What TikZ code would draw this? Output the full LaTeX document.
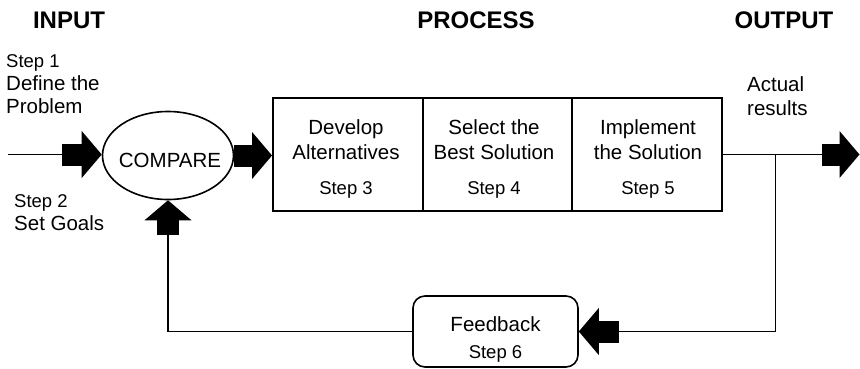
\documentclass[tikz,border=0pt]{standalone}
\usepackage{fontspec}
\setmainfont{Liberation Sans}
\usetikzlibrary{shapes.geometric,arrows.meta,calc}
\newcommand\bodysize{\fontsize{20.5}{23}\selectfont}
\newcommand\cellsize{\fontsize{20.5}{24.5}\selectfont}
\newcommand\stepsize{\fontsize{18.5}{23}\selectfont}
\newcommand\headsize{\fontsize{24}{28}\selectfont\bfseries}

\begin{document}
\begin{tikzpicture}[x=1pt,y=-1pt,
  txt/.style={inner sep=0pt, font=\bodysize},
  head/.style={inner sep=0pt, font=\headsize},
  cell/.style={draw, line width=1.8pt, minimum width=149.7pt, minimum height=113pt, inner sep=0pt},
  celltxt/.style={inner sep=0pt, align=center, font=\cellsize},
  flow/.style={line width=1.5pt},
  fat/.style={line width=22pt, -{Triangle[length=20pt,width=47pt,line width=0pt]}},
]
\useasboundingbox (0,0) rectangle (860,368);

% column headings
\node[head] (hin)  at (69,20.5)  {INPUT};
\node[head] (hpr)  at (476,20.5) {PROCESS};
\node[head] (hout) at (784,20.5) {OUTPUT};

% input texts
\node[txt, anchor=west, align=left] (in1) at (6,84) {{\stepsize Step 1}\\Define the\\Problem};
\node[txt, anchor=west, align=left] (in2) at (14,213) {{\stepsize Step 2}\\Set Goals};

% comparison
\node[ellipse, draw, line width=1.6pt, minimum width=131pt, minimum height=88pt,
      inner sep=0pt] (cmp) at (168,155.5) {};
\node[txt] (cmpt) at (170,160) {COMPARE};

% process steps
\node[cell] (c3) at (347.8,154.5) {};
\node[cell] (c4) at (497.5,154.5) {};
\node[cell] (c5) at (647.2,154.5) {};
\node[celltxt] (t3) at (346,159) {Develop\\Alternatives\\[11pt]{\stepsize Step 3}};
\node[celltxt] (t4) at (494,159) {Select the\\Best Solution\\[11pt]{\stepsize Step 4}};
\node[celltxt] (t5) at (648,159) {Implement\\the Solution\\[11pt]{\stepsize Step 5}};

% output text
\node[txt, anchor=west, align=left, font=\cellsize] (act) at (747,96) {Actual\\results};

% feedback
\node[draw, rounded corners=12pt, line width=1.6pt, minimum width=165pt, minimum height=71pt,
      inner sep=0pt] (fb) at (495.5,331.5) {};
\node[txt, align=center] (fbt) at (495.5,339.5) {Feedback\\[4pt]{\stepsize Step 6}};

% connector points
\coordinate (inL) at (8,154.5);
\coordinate (inA) at (62,154.5);
\coordinate (outA) at (822,154.5);
\coordinate (outT) at (859.5,154.5);
\coordinate (br) at (775.5,154.5);
\coordinate (fbA) at (619,331.5);
\coordinate (upA) at (168,235);

% connectors
\draw[flow] (inL) -- (inA);
\draw[fat] (inA) -- (inA -| cmp.west);
\draw[fat] (cmp.east) -- (cmp.east -| c3.west);
\draw[flow] (c5.east) -- (outA);
\draw[fat] (outA) -- (outT);
\draw[flow] (br) |- (fbA);
\draw[fat] (fbA) -- (fbA -| fb.east);
\draw[flow] (fb.west) -| (upA);
\draw[fat] (upA) -- (cmp.south);
\end{tikzpicture}
\end{document}
